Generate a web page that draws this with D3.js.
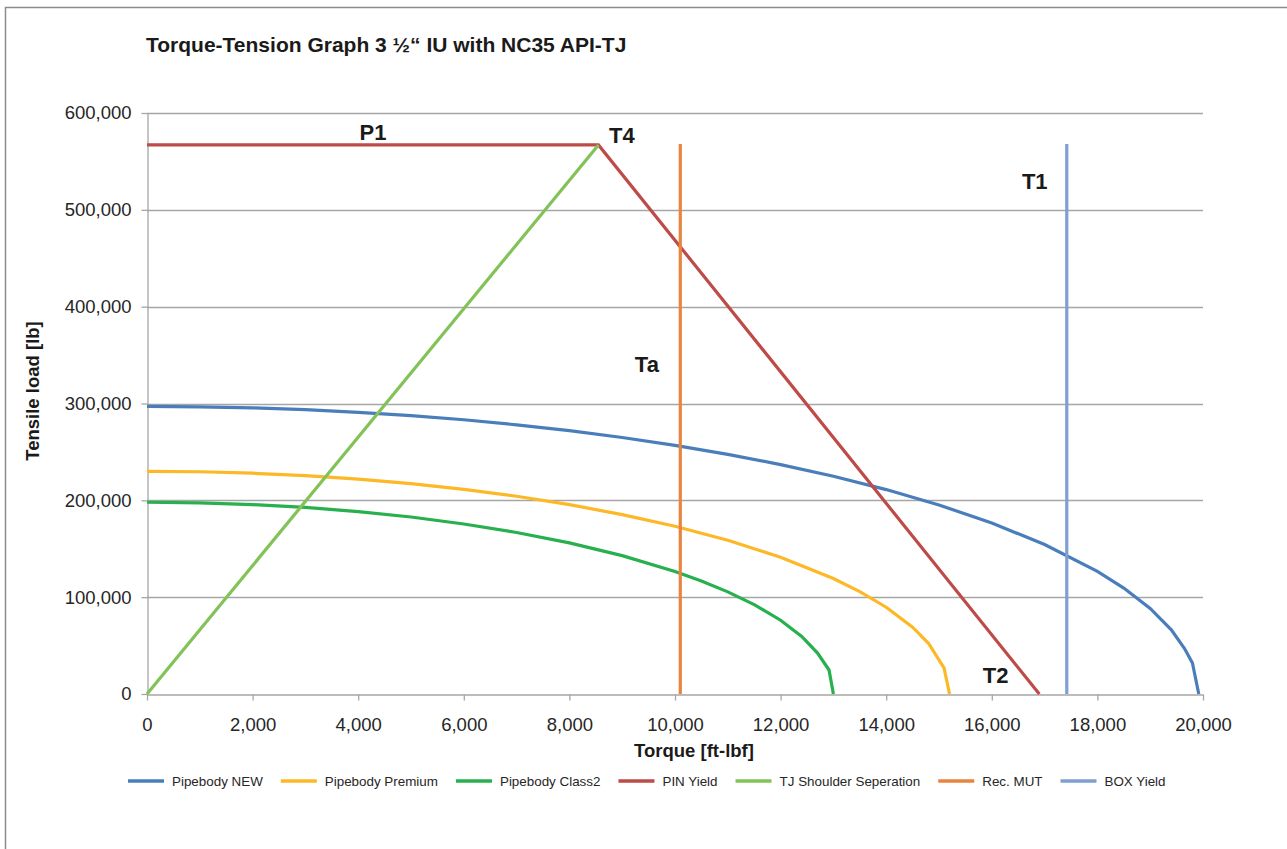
<!DOCTYPE html>
<html>
<head>
<meta charset="utf-8">
<script src="https://cdn.jsdelivr.net/npm/d3@7"></script>
<style>
  body { margin: 0; background: #fff; }
  text { font-family: "Liberation Sans", Arial, sans-serif; }
</style>
</head>
<body>
<script>
// values (torque in ft-lbf, load in lb)
var newTorque = [0, 1000, 2000, 3000, 4000, 5000, 6000, 7000, 8000, 9000, 10000, 11000, 12000, 13000, 14000, 15000, 16000, 17000, 18000, 18500, 19000, 19400, 19650, 19800, 19920];
var newLoad   = [297000, 296600, 295500, 293600, 290900, 287500, 283200, 278000, 271900, 264900, 256800, 247500, 236900, 224900, 211100, 195200, 176600, 154400, 126600, 109400, 88300, 66200, 46900, 32000, 0];

var premTorque = [0, 1000, 2000, 3000, 4000, 5000, 6000, 7000, 8000, 9000, 10000, 11000, 12000, 13000, 13500, 14000, 14500, 14800, 15095, 15200];
var premLoad   = [230000, 229500, 228000, 225500, 221900, 217200, 211300, 204200, 195600, 185300, 173200, 158700, 141200, 119200, 105700, 89600, 69000, 52400, 26900, 0];

var cl2Torque = [0, 1000, 2000, 3000, 4000, 5000, 6000, 7000, 8000, 9000, 10000, 10500, 11000, 11500, 12000, 12400, 12700, 12917, 13000];
var cl2Load   = [198000, 197400, 195600, 192700, 188400, 182800, 175600, 166800, 156100, 142900, 126500, 116700, 105500, 92300, 76200, 59500, 42300, 24800, 0];

var pinTorque = [0, 8550, 16900];
var pinLoad   = [567000, 567000, 0];

var tjTorque = [0, 8550];
var tjLoad   = [0, 567000];

var mutTorque = [10100, 10100];
var mutLoad   = [0, 568000];

var boxTorque = [17420, 17420];
var boxLoad   = [0, 568000];

var seriesNames  = ["Pipebody NEW", "Pipebody Premium", "Pipebody Class2", "PIN Yield", "TJ Shoulder Seperation", "Rec. MUT", "BOX Yield"];
var seriesColors = ["#4a7ebb", "#fdb827", "#27b04d", "#be4b48", "#82c257", "#e8843e", "#7f9fd0"];

var xTicks = [0, 2000, 4000, 6000, 8000, 10000, 12000, 14000, 16000, 18000, 20000];
var yTicks = [0, 100000, 200000, 300000, 400000, 500000, 600000];

function zip(xs, ys) { return xs.map(function(v, i) { return {t: v, p: ys[i]}; }); }

var series = [
  zip(newTorque, newLoad),
  zip(premTorque, premLoad),
  zip(cl2Torque, cl2Load),
  zip(pinTorque, pinLoad),
  zip(tjTorque, tjLoad),
  zip(mutTorque, mutLoad),
  zip(boxTorque, boxLoad)
];

var W = 1287, H = 849;
var margin = {top: 113, right: 84, bottom: 155, left: 147},
    width = W - margin.left - margin.right,
    height = H - margin.top - margin.bottom;

var svgRoot = d3.select("body").append("svg")
    .attr("width", W)
    .attr("height", H);

// outer chart border
svgRoot.append("rect")
    .attr("x", 5.5).attr("y", 7.5)
    .attr("width", W + 10).attr("height", H + 10)
    .attr("fill", "none")
    .attr("stroke", "#8c8c8c")
    .attr("stroke-width", 1.5);

svgRoot.append("text")
    .attr("x", 146).attr("y", 52)
    .attr("font-size", 21)
    .attr("font-weight", "bold")
    .attr("fill", "#1a1a1a")
    .text("Torque-Tension Graph 3 \u00bd\u201c IU with NC35 API-TJ");

var svg = svgRoot.append("g")
    .attr("transform", "translate(" + margin.left + "," + margin.top + ")");

var x = d3.scaleLinear().domain([0, 20000]).range([0, width]);
var y = d3.scaleLinear().domain([0, 600000]).range([height, 0]);
var fmt = d3.format(",");

// gridlines
svg.append("g")
  .selectAll("line")
  .data(yTicks.slice(1))
  .enter().append("line")
    .attr("x1", 0).attr("x2", width)
    .attr("y1", function(d) { return Math.round(y(d)) + 0.5; })
    .attr("y2", function(d) { return Math.round(y(d)) + 0.5; })
    .attr("stroke", "#a6a6a6")
    .attr("stroke-width", 1.3);

// X axis
var xAxis = svg.append("g")
    .attr("transform", "translate(0," + (Math.round(height) + 0.5) + ")")
    .call(d3.axisBottom(x).tickValues(xTicks).tickFormat(fmt).tickSize(6).tickSizeOuter(0).tickPadding(17));

// Y axis
var yAxis = svg.append("g")
    .attr("transform", "translate(0.5,0)")
    .call(d3.axisLeft(y).tickValues(yTicks).tickFormat(fmt).tickSize(6).tickSizeOuter(0).tickPadding(10));

[xAxis, yAxis].forEach(function(a) {
  a.select(".domain").attr("stroke", "#a6a6a6").attr("stroke-width", 1.3);
  a.selectAll(".tick line").attr("stroke", "#a6a6a6").attr("stroke-width", 1.3);
  a.selectAll(".tick text")
    .attr("font-family", "Liberation Sans, Arial, sans-serif")
    .attr("font-size", 18.5)
    .attr("fill", "#262626");
});

// series lines
var line = d3.line()
    .x(function(d) { return x(d.t); })
    .y(function(d) { return y(d.p); });

svg.selectAll(".series")
  .data(series)
  .enter().append("path")
    .attr("class", "series")
    .attr("fill", "none")
    .attr("stroke", function(d, i) { return seriesColors[i]; })
    .attr("stroke-width", 3.2)
    .attr("d", line);

// point labels
var labels = [
  {name: "P1", t: 4280, p: 572000, anchor: "middle"},
  {name: "T4", t: 8750, p: 569000, anchor: "start"},
  {name: "Ta", t: 9240, p: 332500, anchor: "start"},
  {name: "T1", t: 16570, p: 522000, anchor: "start"},
  {name: "T2", t: 15830, p: 11000, anchor: "start"}
];
svg.selectAll(".lbl")
  .data(labels)
  .enter().append("text")
    .attr("class", "lbl")
    .attr("x", function(d) { return x(d.t); })
    .attr("y", function(d) { return y(d.p); })
    .attr("text-anchor", function(d) { return d.anchor; })
    .attr("font-size", 22)
    .attr("font-weight", "bold")
    .attr("fill", "#1a1a1a")
    .text(function(d) { return d.name; });

// axis titles
svg.append("text")
    .attr("x", 694 - margin.left)
    .attr("y", height + 63)
    .attr("text-anchor", "middle")
    .attr("font-size", 18.5)
    .attr("font-weight", "bold")
    .attr("fill", "#1a1a1a")
    .text("Torque [ft-lbf]");

svg.append("text")
    .attr("transform", "translate(" + (39 - margin.left) + "," + (391 - margin.top) + ") rotate(-90)")
    .attr("text-anchor", "middle")
    .attr("font-size", 18.5)
    .attr("font-weight", "bold")
    .attr("fill", "#1a1a1a")
    .text("Tensile load [lb]");

// legend
var legend = svgRoot.append("g").attr("transform", "translate(128,781)");
var lx = 0;
seriesNames.forEach(function(name, i) {
  var g = legend.append("g").attr("transform", "translate(" + lx + ",0)");
  g.append("line")
    .attr("x1", 0).attr("x2", 36)
    .attr("y1", 0).attr("y2", 0)
    .attr("stroke", seriesColors[i])
    .attr("stroke-width", 3.5);
  var t = g.append("text")
    .attr("x", 44).attr("y", 4.5)
    .attr("font-size", 13.4)
    .attr("fill", "#262626")
    .text(name);
  lx += 44 + t.node().getComputedTextLength() + 18;
});
</script>
</body>
</html>
